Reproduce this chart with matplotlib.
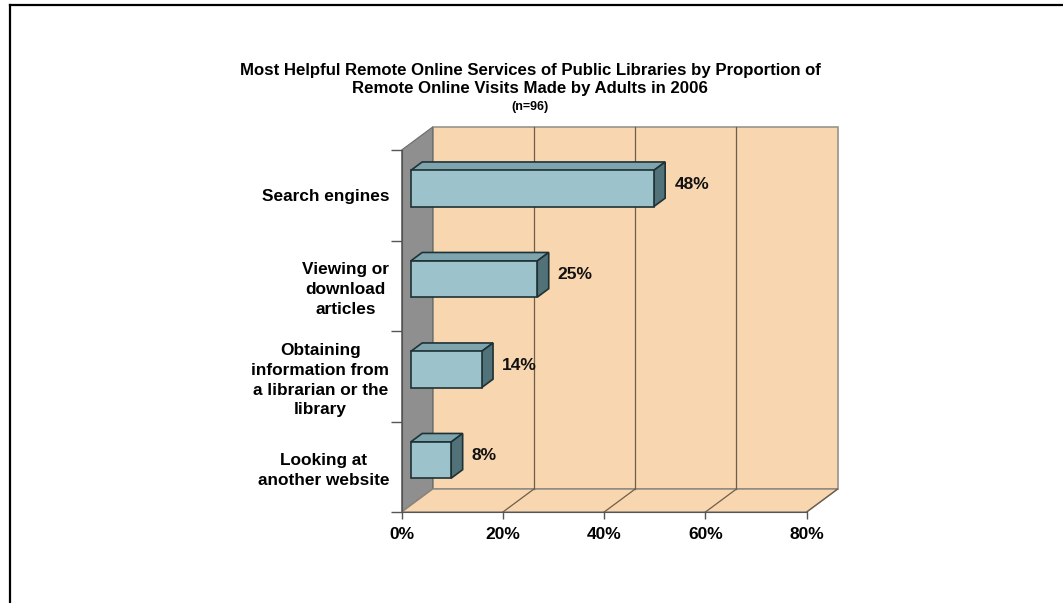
import matplotlib
matplotlib.use("Agg")
import matplotlib.pyplot as plt
from matplotlib.patches import Polygon
from matplotlib.lines import Line2D

plt.rcParams['font.family'] = ['Liberation Sans', 'DejaVu Sans']
plt.rcParams['font.weight'] = 'bold'

# データ
categories = ["Search engines",
              "Viewing or\ndownload\narticles",
              "Obtaining\ninformation from\na librarian or the\nlibrary",
              "Looking at\nanother website"]
values = [48, 25, 14, 8]
xticks = [0, 20, 40, 60, 80]
xticklabels = ["0%", "20%", "40%", "60%", "80%"]

title_lines = ["Most Helpful Remote Online Services of Public Libraries by Proportion of",
               "Remote Online Visits Made by Adults in 2006"]
subtitle = "(n=96)"

# 色
peach = "#F8D6AF"
wall_gray = "#8F8F8F"
bar_front = "#9CC3CB"
bar_top = "#7EA5AE"
bar_side = "#52727A"
bar_edge = "#1E3236"
grid_col = "#6E5E4A"

W, H = 1063, 603
fig = plt.figure(figsize=(W / 100, H / 100), dpi=100)
ax = fig.add_axes([401.7 / W, (H - 512) / H, 405 / W, 362 / H])

n = len(categories)
xmax = 80
ax.set_xlim(0, xmax)
ax.set_ylim(0, n)

# 奥行き（データ単位）
DX = 31 / (405 / xmax)
DY = 23 / (362 / n)
f0, f1 = 0.29, 0.66   # 棒の前面・背面の奥行き位置
half = 0.2

# 奥の壁・左の壁・床
ax.add_patch(Polygon([(DX, DY), (xmax + DX, DY), (xmax + DX, n + DY), (DX, n + DY)],
                     closed=True, fc=peach, ec="#9A948C", lw=1.2, clip_on=False, zorder=1))
ax.add_patch(Polygon([(0, 0), (DX, DY), (DX, n + DY), (0, n)],
                     closed=True, fc=wall_gray, ec="#6A6A6A", lw=0.8, clip_on=False, zorder=1))
ax.add_patch(Polygon([(0, 0), (xmax, 0), (xmax + DX, DY), (DX, DY)],
                     closed=True, fc=peach, ec="#8A847C", lw=1.0, clip_on=False, zorder=1))

# 目盛り線（壁と床）
for t in xticks[1:-1]:
    ax.add_line(Line2D([t + DX, t + DX], [DY, n + DY], color=grid_col, lw=0.9, zorder=2, clip_on=False))
for t in xticks[1:]:
    ax.add_line(Line2D([t, t + DX], [0, DY], color=grid_col, lw=0.9, zorder=2, clip_on=False))

# 3D 風の横棒
centers = [n - 0.5 - i for i in range(n)]
ax.barh([c + f0 * DY for c in centers], values, height=2 * half, left=f0 * DX,
        color=bar_front, edgecolor=bar_edge, linewidth=1.2, zorder=4)
for c, v in zip(centers, values):
    x0, x1 = f0 * DX, f1 * DX
    y0, y1 = f0 * DY, f1 * DY
    top = [(x0, c + half + y0), (v + x0, c + half + y0), (v + x1, c + half + y1), (x1, c + half + y1)]
    side = [(v + x0, c - half + y0), (v + x1, c - half + y1), (v + x1, c + half + y1), (v + x0, c + half + y0)]
    ax.add_patch(Polygon(top, closed=True, fc=bar_top, ec=bar_edge, lw=1.2, zorder=3))
    ax.add_patch(Polygon(side, closed=True, fc=bar_side, ec=bar_edge, lw=1.2, zorder=3))
    ax.text(v + x1 + 1.8, c + (y0 + y1) / 2, f"{v}%", ha="left", va="center",
            fontsize=12.5, fontweight="bold", color="#111111", zorder=5)

# 軸
for s in ["top", "right"]:
    ax.spines[s].set_visible(False)
ax.spines["left"].set_color("#555555")
ax.spines["bottom"].set_color("#555555")
ax.spines["left"].set_zorder(2)
ax.spines["bottom"].set_zorder(2)
ax.set_xticks(xticks)
ax.set_xticklabels(xticklabels, fontsize=12.5, fontweight="bold")
ax.tick_params(axis="x", direction="out", length=5, width=1, color="#555555", pad=6)
ax.set_yticks(range(n + 1))
ax.set_yticklabels([])
ax.tick_params(axis="y", direction="out", length=8, width=1, color="#555555")
ax.set_yticks(centers, minor=True)
ax.set_yticklabels(categories, minor=True, fontsize=12.4, fontweight="bold", linespacing=1.4)
for lab in ax.get_yticklabels(minor=True):
    lab.set_multialignment("center")
ax.tick_params(axis="y", which="minor", length=0, pad=9)
ax.patch.set_visible(False)

# タイトル
fig.text(530 / W, 1 - 70 / H, title_lines[0], ha="center", va="center", fontsize=12.1, fontweight="bold")
fig.text(530 / W, 1 - 88 / H, title_lines[1], ha="center", va="center", fontsize=12.1, fontweight="bold")
fig.text(530 / W, 1 - 107 / H, subtitle, ha="center", va="center", fontsize=9, fontweight="bold")

# 外枠
fig.add_artist(Line2D([10 / W, 10 / W], [0, 1 - 5 / H], color="black", lw=1.6))
fig.add_artist(Line2D([10 / W, 1], [1 - 5 / H, 1 - 5 / H], color="black", lw=1.6))

fig.savefig("out.png", dpi=100)
